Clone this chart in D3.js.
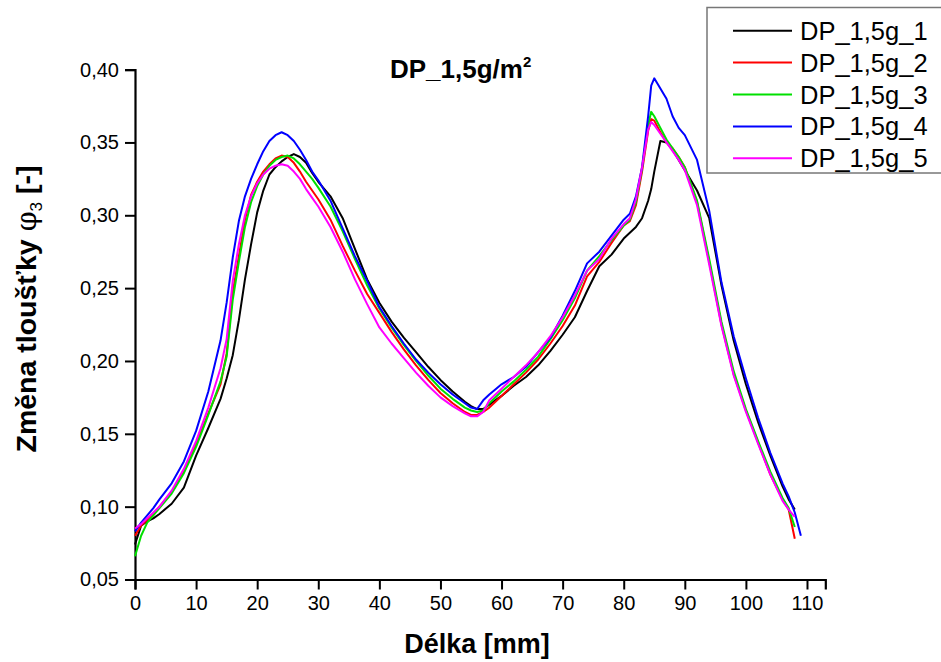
<!DOCTYPE html>
<html><head><meta charset="utf-8">
<script src="https://cdn.jsdelivr.net/npm/d3@7"></script>
<style>
html,body{margin:0;padding:0;background:#fff;}
svg{display:block;}
text{font-family:"Liberation Sans",Arial,sans-serif;}
</style></head>
<body><svg id="chart" width="941" height="662"></svg>
<script>
// ---- data ----
const xGrid = [0,1,2,3,4,6,8,10,12,14,15,16,17,18,19,20,21,22,23,24,25,26,27,28,29,30,32,34,36,38,40,42,44,46,48,50,52,54,55,56,57,58,60,62,64,66,68,70,72,74,76,78,80,81,82,83,84,84.5,85,86,87,88,89,90,92,94,96,98,100,102,104,106,107,108,109];

const s1 = [0.074,0.087,0.090,0.092,0.095,0.102,0.113,0.135,0.154,0.174,0.188,0.204,0.228,0.256,0.280,0.302,0.317,0.328,0.333,0.337,0.340,0.342,0.340,0.336,0.329,0.323,0.313,0.298,0.277,0.256,0.240,0.227,0.216,0.206,0.196,0.187,0.179,0.172,0.169,0.167,0.167,0.170,0.176,0.183,0.189,0.197,0.207,0.218,0.230,0.248,0.265,0.273,0.284,0.288,0.292,0.298,0.310,0.318,0.330,0.351,0.350,0.345,0.338,0.331,0.317,0.298,0.252,0.214,0.184,0.158,0.135,0.114,0.105,0.098,null];
const s2 = [0.080,0.087,0.091,0.095,0.100,0.110,0.124,0.143,0.164,0.184,0.205,0.247,0.272,0.297,0.314,0.323,0.330,0.335,0.339,0.341,0.340,0.336,0.330,0.323,0.317,0.311,0.297,0.279,0.262,0.246,0.233,0.220,0.208,0.197,0.187,0.178,0.171,0.165,0.163,0.163,0.165,0.168,0.176,0.184,0.192,0.201,0.212,0.224,0.238,0.258,0.268,0.281,0.293,0.296,0.307,0.330,0.358,0.366,0.365,0.357,0.350,0.346,0.340,0.333,0.309,0.268,0.225,0.191,0.166,0.144,0.122,0.105,0.098,0.078,null];
const s3 = [0.066,0.080,0.089,0.094,0.099,0.109,0.123,0.141,0.163,0.186,0.203,0.242,0.268,0.292,0.309,0.320,0.328,0.334,0.338,0.340,0.341,0.339,0.335,0.330,0.325,0.319,0.306,0.289,0.270,0.252,0.236,0.223,0.211,0.200,0.190,0.181,0.174,0.168,0.166,0.165,0.166,0.171,0.179,0.186,0.194,0.203,0.215,0.228,0.243,0.262,0.272,0.283,0.293,0.297,0.309,0.332,0.362,0.371,0.368,0.360,0.352,0.346,0.340,0.333,0.310,0.270,0.227,0.193,0.167,0.145,0.124,0.106,0.099,0.086,null];
const s4 = [0.083,0.089,0.094,0.099,0.105,0.116,0.131,0.152,0.179,0.214,0.240,0.271,0.296,0.313,0.325,0.335,0.344,0.351,0.355,0.357,0.355,0.351,0.345,0.338,0.330,0.324,0.310,0.291,0.272,0.255,0.237,0.224,0.212,0.201,0.192,0.184,0.177,0.171,0.168,0.167,0.173,0.177,0.184,0.189,0.196,0.206,0.216,0.231,0.248,0.267,0.275,0.286,0.297,0.301,0.313,0.333,0.368,0.389,0.394,0.387,0.380,0.368,0.360,0.355,0.338,0.303,0.254,0.217,0.188,0.161,0.137,0.116,0.107,0.096,0.080];
const s5 = [0.085,0.088,0.092,0.096,0.100,0.111,0.126,0.145,0.168,0.195,0.215,0.255,0.280,0.300,0.313,0.322,0.328,0.332,0.334,0.335,0.334,0.330,0.325,0.318,0.312,0.306,0.292,0.275,0.256,0.239,0.223,0.212,0.202,0.192,0.183,0.175,0.169,0.164,0.162,0.162,0.165,0.173,0.181,0.189,0.197,0.206,0.217,0.230,0.245,0.262,0.270,0.284,0.294,0.298,0.311,0.333,0.359,0.364,0.362,0.356,0.350,0.344,0.338,0.331,0.307,0.266,0.224,0.190,0.165,0.143,0.122,0.104,0.098,0.093,null];

const seriesNames = ["DP_1,5g_1","DP_1,5g_2","DP_1,5g_3","DP_1,5g_4","DP_1,5g_5"];
const seriesColors = ["#000000","#ff0000","#00e000","#0000ff","#ff00ff"];
const seriesValues = [s1,s2,s3,s4,s5];
const xTicks = [0,10,20,30,40,50,60,70,80,90,100,110];
const yTicks = [0.05,0.10,0.15,0.20,0.25,0.30,0.35,0.40];
const titleMain = "DP_1,5g/m";
const xLabel = "Délka [mm]";

// ---- drawing ----
const svg = d3.select("#chart");
const x = d3.scaleLinear().domain([0,113]).range([135, 135 + 113*6.109]);
const y = d3.scaleLinear().domain([0.05,0.40]).range([579.5, 69.6]);

const fmt = v => d3.format(".2f")(v).replace(".", ",");

const gx = svg.append("g").attr("transform", `translate(0,${y(0.05)})`);
gx.call(d3.axisBottom(x).tickValues(d3.range(5,113,10)).tickSize(5).tickFormat(""));
gx.call(d3.axisBottom(x).tickValues(xTicks).tickSize(10).tickPadding(6).tickFormat(d3.format("d")));
gx.selectAll(".domain").attr("stroke-width", 2.2);
gx.selectAll("line").attr("stroke-width", 2);
gx.selectAll("text").attr("font-size", 20).attr("fill","#000");

const gy = svg.append("g").attr("transform", `translate(${x(0)},0)`);
gy.call(d3.axisLeft(y).tickValues(d3.range(0.075,0.40,0.05)).tickSize(5).tickFormat(""));
gy.call(d3.axisLeft(y).tickValues(yTicks).tickSize(10).tickPadding(6).tickFormat(fmt));
gy.selectAll(".domain").attr("stroke-width", 2.2);
gy.selectAll("line").attr("stroke-width", 2);
gy.selectAll("text").attr("font-size", 20).attr("fill","#000");

const line = d3.line()
  .defined(d => d[1] !== null)
  .x(d => x(d[0])).y(d => y(d[1]));
seriesValues.forEach((vals, i) => {
  svg.append("path")
    .datum(xGrid.map((xv, j) => [xv, vals[j]]))
    .attr("fill","none")
    .attr("stroke", seriesColors[i])
    .attr("stroke-width", 2)
    .attr("stroke-linejoin","round")
    .attr("d", line);
});

// title
const t = svg.append("text").attr("x", 390).attr("y", 78)
  .attr("font-weight","bold").attr("font-size", 26).attr("fill","#000");
t.append("tspan").text(titleMain);
t.append("tspan").attr("font-size", 15).attr("dy", -11).text("2");

// axis labels
svg.append("text").attr("x", 477).attr("y", 653).attr("text-anchor","middle")
  .attr("font-weight","bold").attr("font-size", 27).attr("fill","#000").text(xLabel);

const yl = svg.append("text")
  .attr("transform", `translate(36,${309}) rotate(-90)`)
  .attr("text-anchor","middle").attr("font-weight","bold").attr("font-size", 28.5).attr("fill","#000");
yl.append("tspan").text("Změna tloušťky ");
yl.append("tspan").attr("font-weight","normal").attr("font-family","DejaVu Serif, serif").text("φ");
yl.append("tspan").attr("font-weight","normal").attr("font-size", 17).attr("dy", 6).text("3");
yl.append("tspan").attr("dy", -6).text(" [-]");

// legend
const lg = svg.append("g");
lg.append("rect").attr("x", 707).attr("y", 7.5).attr("width", 260).attr("height", 165.5)
  .attr("fill","#fff").attr("stroke","#777").attr("stroke-width", 1.5);
seriesNames.forEach((name, i) => {
  const yy = 30.7 + i*31.9;
  lg.append("line").attr("x1", 733).attr("x2", 792).attr("y1", yy).attr("y2", yy)
    .attr("stroke", seriesColors[i]).attr("stroke-width", 2);
  lg.append("text").attr("x", 800).attr("y", yy + 9).attr("font-size", 25.5)
    .attr("fill","#000").text(name);
});
</script></body></html>
